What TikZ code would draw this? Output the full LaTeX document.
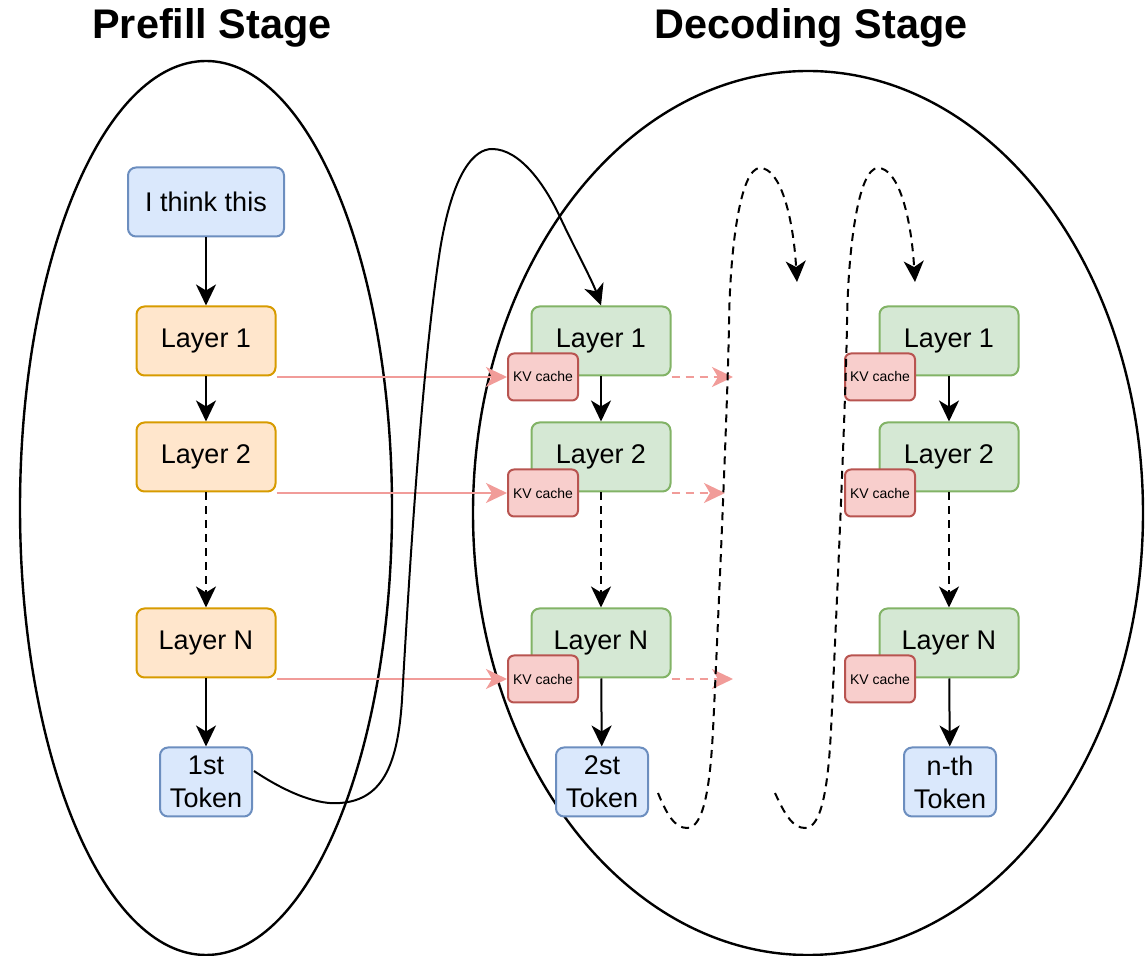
\documentclass[tikz,border=0pt]{standalone}
\usepackage{fontspec}
\setmainfont{Liberation Sans}
\usetikzlibrary{arrows.meta,calc}

\definecolor{blueF}{HTML}{DAE8FC}
\definecolor{blueS}{HTML}{6C8EBF}
\definecolor{orangeF}{HTML}{FFE6CC}
\definecolor{orangeS}{HTML}{D79B00}
\definecolor{greenF}{HTML}{D5E8D4}
\definecolor{greenS}{HTML}{82B366}
\definecolor{redF}{HTML}{F8CECC}
\definecolor{redS}{HTML}{B85450}
\definecolor{kvline}{HTML}{F19C99}

\begin{document}
\begin{tikzpicture}[x=0.5pt,y=-0.5pt,
  box/.style={draw, rounded corners=4pt, line width=1pt, inner sep=0pt,
    minimum width=69.5pt, minimum height=34.5pt, align=center,
    font=\fontsize{13.5}{16.5}\selectfont},
  inbox/.style={box, fill=blueF, draw=blueS},
  pre/.style={box, fill=orangeF, draw=orangeS},
  dec/.style={box, fill=greenF, draw=greenS},
  kv/.style={draw=redS, fill=redF, rounded corners=3pt, line width=1pt,
    inner sep=0pt, minimum width=35pt, minimum height=23.5pt,
    font=\fontsize{7}{8}\selectfont},
  title/.style={font=\fontsize{20.7}{24}\selectfont\bfseries},
  ring/.style={draw=black, line width=1.2pt},
  tip/.style={-{Stealth[length=10.5pt,width=10pt,inset=3pt]}},
  flow/.style={line width=1pt, tip},
  dflow/.style={flow, dash pattern=on 4pt off 3pt},
  kvarrow/.style={draw=kvline, line width=1pt,
    -{Stealth[length=10.5pt,width=10pt,inset=3pt,fill=kvline]}},
  dkvarrow/.style={kvarrow, dash pattern=on 4pt off 3pt},
]
\useasboundingbox (0,0) rectangle (1147,956);

% stage outlines
\draw[ring] (206,508) ellipse [x radius=93pt, y radius=223.5pt];
\draw[ring] (808,513) ellipse [x radius=167.5pt, y radius=221pt];

% titles
\node[title] (tp) at (212,28) {Prefill Stage};
\node[title] (td) at (811,28) {Decoding Stage};

% prefill column
\node[inbox, minimum width=78pt] (I) at (206,202) {I think this};
\node[pre] (P1) at (206,341) {Layer 1};
\node[pre] (P2) at (206,457) {Layer 2};
\node[pre] (PN) at (206,643) {Layer N};
\node[inbox, minimum width=46pt] (T1) at (206,782) {1st\\Token};

% first decoding column
\node[dec] (D1) at (601,341) {Layer 1};
\node[dec] (D2) at (601,457) {Layer 2};
\node[dec] (DN) at (601,643) {Layer N};
\node[inbox, minimum width=46pt] (T2) at (602,782) {2st\\Token};
\node[kv] (K1) at (543,377) {KV cache};
\node[kv] (K2) at (543,493) {KV cache};
\node[kv] (KN) at (543,679) {KV cache};

% last decoding column
\node[dec] (E1) at (949,341) {Layer 1};
\node[dec] (E2) at (949,457) {Layer 2};
\node[dec] (EN) at (949,643) {Layer N};
\node[inbox, minimum width=46pt] (T3) at (950,782) {n-th\\Token};
\node[kv] (L1) at (880,377) {KV cache};
\node[kv] (L2) at (880,493) {KV cache};
\node[kv] (LN) at (880,679) {KV cache};

% layer-to-layer flow
\draw[flow] (I) -- (P1);
\draw[flow] (P1) -- (P2);
\draw[dflow] (P2) -- (PN);
\draw[flow] (PN) -- (T1);
\draw[flow] (D1) -- (D2);
\draw[dflow] (D2) -- (DN);
\draw[flow] (DN) -- (T2);
\draw[flow] (E1) -- (E2);
\draw[dflow] (E2) -- (EN);
\draw[flow] (EN) -- (T3);

% KV cache hand-over from prefill
\draw[kvarrow] (P1.east |- K1.west) -- (K1.west);
\draw[kvarrow] (P2.east |- K2.west) -- (K2.west);
\draw[kvarrow] (PN.east |- KN.west) -- (KN.west);

% KV cache passed on to later steps
\coordinate (q1) at (733,377);
\coordinate (q2) at (725,493);
\coordinate (qN) at (733,679);
\draw[dkvarrow] (D1.east |- K1.west) -- (q1);
\draw[dkvarrow] (D2.east |- K2.west) -- (q2);
\draw[dkvarrow] (DN.east |- KN.west) -- (qN);

% first token fed back into the decoder
\coordinate (c0) at ($(T1.east)+(1,-11)$);
\draw[flow] (c0) .. controls (290,795) and (320,805) .. (340,803)
  .. controls (385,800) and (398,760) .. (402,700)
  .. controls (410,560) and (422,367) .. (440,250)
  .. controls (453,170) and (475,149) .. (492,149)
  .. controls (520,149) and (545,185) .. (560,217)
  .. controls (574,247) and (592,280) .. (D1.north);

% autoregressive loops
\coordinate (a0) at ($(T2.east)+(9,11)$);
\coordinate (a1) at (797,282);
\draw[dflow] (a0) .. controls (667,815) and (675,828) .. (687,828)
  .. controls (703,828) and (710,790) .. (713,730)
  .. controls (716,670) and (728,400) .. (729,323)
  .. controls (730,250) and (740,168) .. (760,168)
  .. controls (780,168) and (793,215) .. (a1);
\coordinate (b0) at (775,793);
\coordinate (b1) at (915,282);
\draw[dflow] (b0) .. controls (785,815) and (793,828) .. (805,828)
  .. controls (821,828) and (828,790) .. (831,730)
  .. controls (834,670) and (846,400) .. (847,323)
  .. controls (848,250) and (858,168) .. (878,168)
  .. controls (898,168) and (911,215) .. (b1);
\end{tikzpicture}
\end{document}
